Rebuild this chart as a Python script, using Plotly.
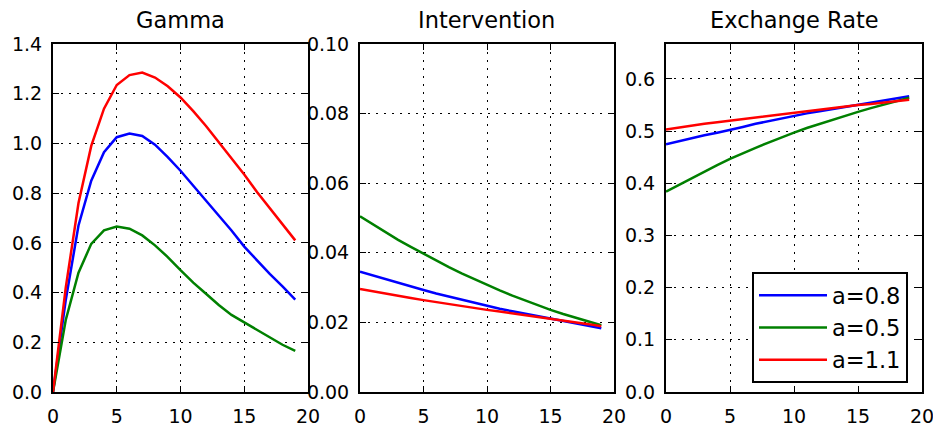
import plotly.graph_objects as go

# ---------------- data ----------------
t = list(range(20))
labels = ["a=0.8", "a=0.5", "a=1.1"]
colors = ["#0000ff", "#008000", "#ff0000"]

gamma_08 = [0.0, 0.37, 0.67, 0.85, 0.965, 1.025, 1.04, 1.03, 0.995, 0.945,
            0.89, 0.83, 0.77, 0.71, 0.65, 0.585, 0.53, 0.475, 0.425, 0.372]
gamma_05 = [0.0, 0.29, 0.48, 0.596, 0.65, 0.666, 0.657, 0.63, 0.59, 0.543,
            0.49, 0.44, 0.395, 0.35, 0.31, 0.28, 0.25, 0.22, 0.19, 0.165]
gamma_11 = [0.0, 0.42, 0.76, 0.99, 1.14, 1.235, 1.275, 1.285, 1.265, 1.23,
            1.185, 1.13, 1.07, 1.005, 0.94, 0.875, 0.805, 0.74, 0.675, 0.61]

interv_08 = [0.0346, 0.0335, 0.0324, 0.0313, 0.0303, 0.0293, 0.0283, 0.0274, 0.0264, 0.0256,
             0.0247, 0.0239, 0.0232, 0.0225, 0.0218, 0.0212, 0.0205, 0.0198, 0.0190, 0.0183]
interv_05 = [0.0505, 0.0482, 0.0459, 0.0437, 0.0417, 0.0397, 0.0378, 0.0359, 0.0341, 0.0324,
             0.0308, 0.0292, 0.0277, 0.0263, 0.0249, 0.0236, 0.0224, 0.0213, 0.0202, 0.0192]
interv_11 = [0.0296, 0.0289, 0.0283, 0.0276, 0.0270, 0.0264, 0.0258, 0.0252, 0.0247, 0.0241,
             0.0236, 0.0231, 0.0226, 0.0221, 0.0216, 0.0212, 0.0206, 0.0200, 0.0195, 0.0189]

exch_08 = [0.475, 0.481, 0.486, 0.492, 0.497, 0.502, 0.508, 0.514, 0.519, 0.525,
           0.530, 0.534, 0.538, 0.542, 0.546, 0.550, 0.554, 0.558, 0.562, 0.567]
exch_05 = [0.384, 0.397, 0.410, 0.423, 0.435, 0.447, 0.458, 0.468, 0.478, 0.488,
           0.497, 0.506, 0.514, 0.522, 0.530, 0.537, 0.544, 0.551, 0.558, 0.564]
exch_11 = [0.503, 0.507, 0.510, 0.514, 0.517, 0.520, 0.524, 0.527, 0.530, 0.533,
           0.536, 0.539, 0.541, 0.544, 0.547, 0.550, 0.552, 0.555, 0.558, 0.560]

titles = ["Gamma", "Intervention", "Exchange Rate"]
x_ticks = [0, 5, 10, 15, 20]
y_ticks = [
    [0.0, 0.2, 0.4, 0.6, 0.8, 1.0, 1.2, 1.4],
    [0.00, 0.02, 0.04, 0.06, 0.08, 0.10],
    [0.0, 0.1, 0.2, 0.3, 0.4, 0.5, 0.6],
]
y_ranges = [[0, 1.4], [0, 0.10], [0, 0.667]]
y_formats = [".1f", ".2f", ".1f"]

panels = [
    [gamma_08, gamma_05, gamma_11],
    [interv_08, interv_05, interv_11],
    [exch_08, exch_05, exch_11],
]

# ---------------- layout ----------------
W, H = 933, 423


def px_x(px):
    return px / W


def px_y(py):
    return 1 - py / H


x_doms = [(53, 308), (360, 614), (666, 922)]
y_dom = [px_y(392), px_y(44)]
FONT = "DejaVu Sans"

fig = go.Figure()
for p, series in enumerate(panels):
    xa = "x" if p == 0 else f"x{p+1}"
    ya = "y" if p == 0 else f"y{p+1}"
    for s, vals in enumerate(series):
        fig.add_trace(go.Scatter(
            x=t, y=vals, mode="lines", name=labels[s],
            line=dict(color=colors[s], width=2.5),
            xaxis=xa, yaxis=ya,
            showlegend=(p == 2), hoverinfo="skip",
        ))

axis_common = dict(
    showline=True, linecolor="black", linewidth=2, mirror="ticks",
    ticks="inside", ticklen=6, tickwidth=1.2, tickcolor="black",
    showgrid=True, gridcolor="black", gridwidth=1.3, griddash="2px,6px",
    zeroline=False, automargin=False, ticklabeloverflow="allow",
    tickfont=dict(family=FONT, size=19, color="black"),
)

for p in range(3):
    xk = "xaxis" if p == 0 else f"xaxis{p+1}"
    yk = "yaxis" if p == 0 else f"yaxis{p+1}"
    xa_anchor = "y" if p == 0 else f"y{p+1}"
    ya_anchor = "x" if p == 0 else f"x{p+1}"
    fig.layout[xk] = dict(
        axis_common,
        domain=[px_x(x_doms[p][0]), px_x(x_doms[p][1])],
        anchor=xa_anchor, range=[0, 20], tickvals=x_ticks,
        ticktext=[str(v) for v in x_ticks], ticklabelstandoff=6,
    )
    fig.layout[yk] = dict(
        axis_common,
        domain=y_dom, anchor=ya_anchor, range=y_ranges[p],
        tickvals=y_ticks[p], tickformat=y_formats[p], ticklabelstandoff=5,
    )
    fig.add_annotation(
        text=titles[p], xref="paper", yref="paper",
        x=px_x((x_doms[p][0] + x_doms[p][1]) / 2), y=px_y(20),
        xanchor="center", yanchor="middle", showarrow=False,
        font=dict(family=FONT, size=22.5, color="black"),
    )

fig.update_layout(
    width=W, height=H,
    margin=dict(l=0, r=0, t=0, b=0, autoexpand=False),
    paper_bgcolor="white", plot_bgcolor="white",
    font=dict(family=FONT, color="black"),
    legend=dict(
        x=px_x(752), y=px_y(272), xanchor="left", yanchor="top",
        bgcolor="white", bordercolor="black", borderwidth=2,
        font=dict(family=FONT, size=22.5, color="black"),
        itemwidth=68,
    ),
    showlegend=True,
)

fig.write_html(
    "out.html",
    config={"displayModeBar": False},
    post_script="document.body.style.margin='0';document.body.style.overflow='hidden';",
)
